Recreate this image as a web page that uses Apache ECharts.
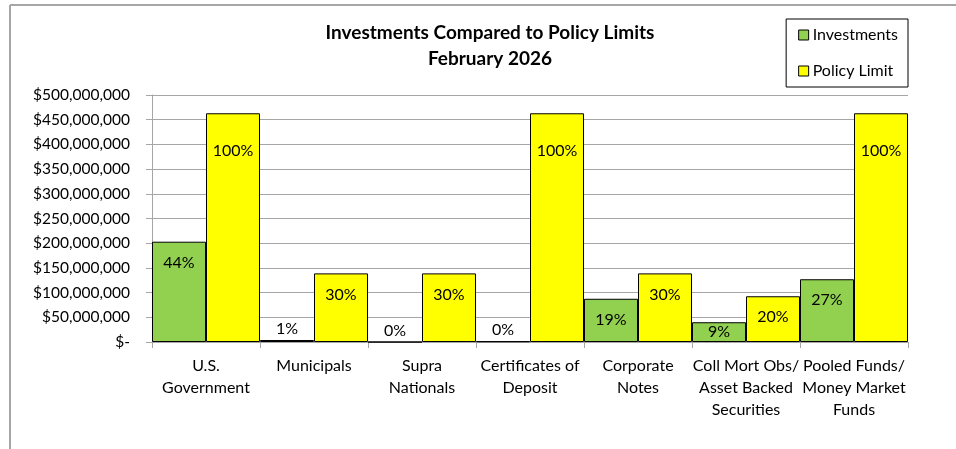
<!DOCTYPE html>
<html>
<head>
<meta charset="utf-8">
<script src="https://cdn.jsdelivr.net/npm/echarts@6/dist/echarts.min.js"></script>
<style>
  html, body { margin: 0; padding: 0; background: #fff; }
  #chart { width: 956px; height: 449px; }
</style>
</head>
<body>
<div id="chart"></div>
<script>
// ---- data ----
const categories = [
  'U.S.\nGovernment',
  'Municipals',
  'Supra\nNationals',
  'Certificates of\nDeposit',
  'Corporate\nNotes',
  'Coll Mort Obs/\nAsset Backed\nSecurities',
  'Pooled Funds/\nMoney Market\nFunds'
];
const investments = [203000000, 4000000, 0, 1500000, 87500000, 40000000, 127000000];
const policyLimits = [463000000, 138900000, 138900000, 463000000, 138900000, 92600000, 463000000];
const seriesNames = ['Investments', 'Policy Limit'];
const titleLines = ['Investments Compared to Policy Limits', 'February 2026'];
const yTicks = { min: 0, max: 500000000, interval: 50000000 };

// ---- build ----
const FONT = 'Lato';
const FS = 16;
const total = investments.reduce((a, b) => a + b, 0);
function pct(v) { return Math.round(v / total * 100) + '%'; }
function labelFor(v) {
  if (v < 10000000) return { position: 'top', distance: 3 };
  if (v < 60000000) return { position: 'inside' };
  if (v > 400000000) return { position: 'insideTop', distance: 30 };
  return { position: 'insideTop', distance: 13 };
}
function toData(arr) {
  return arr.map(v => ({ value: v, label: labelFor(v) }));
}

const chart = echarts.init(document.getElementById('chart'), null, { renderer: 'canvas' });
const grey = '#a6a6a6';
chart.setOption({
  animation: false,
  textStyle: { fontFamily: FONT },
  graphic: [
    { type: 'line', shape: { x1: 10, y1: 5, x2: 956, y2: 5 }, style: { stroke: '#a6a6a6', lineWidth: 2 } },
    { type: 'line', shape: { x1: 10, y1: 5, x2: 10, y2: 449 }, style: { stroke: '#a6a6a6', lineWidth: 2 } }
  ],
  title: {
    text: titleLines.join('\n'),
    left: 490,
    textAlign: 'center',
    top: 20,
    padding: 0,
    textStyle: { fontFamily: FONT, fontSize: 19, fontWeight: 'bold', color: '#000', lineHeight: 26 }
  },
  legend: {
    data: seriesNames,
    orient: 'vertical',
    right: 48,
    top: 19,
    padding: [8, 10, 8, 12],
    itemGap: 20,
    itemWidth: 10,
    itemHeight: 10,
    icon: 'rect',
    borderColor: '#000',
    borderWidth: 1,
    textStyle: { fontFamily: FONT, fontSize: FS, color: '#000', padding: [0, 0, 0, -1] },
    itemStyle: { borderColor: '#000', borderWidth: 1 }
  },
  grid: { left: 152, right: 48, top: 95, bottom: 107, containLabel: false },
  xAxis: {
    type: 'category',
    data: categories,
    axisLine: { lineStyle: { color: grey, width: 1 } },
    axisTick: { show: true, length: 6, lineStyle: { color: grey } },
    axisLabel: { color: '#000', fontSize: FS, fontFamily: FONT, lineHeight: 22, margin: 13, interval: 0 },
    splitLine: { show: false }
  },
  yAxis: {
    type: 'value',
    min: yTicks.min,
    max: yTicks.max,
    interval: yTicks.interval,
    axisLine: { show: true, lineStyle: { color: grey, width: 1 } },
    axisTick: { show: true, length: 6, lineStyle: { color: grey } },
    splitLine: { lineStyle: { color: grey, width: 1 } },
    axisLabel: {
      color: '#000', fontSize: 15.5, fontFamily: FONT, margin: 22,
      formatter: v => v === 0 ? '$-' : '$' + v.toLocaleString('en-US')
    }
  },
  series: [
    {
      name: seriesNames[0],
      type: 'bar',
      data: toData(investments),
      barGap: '0%',
      barCategoryGap: '0%',
      itemStyle: { color: '#92D050', borderColor: '#000', borderWidth: 1 },
      label: { show: true, color: '#000', fontSize: FS, fontFamily: FONT, formatter: p => pct(p.value) }
    },
    {
      name: seriesNames[1],
      type: 'bar',
      data: toData(policyLimits),
      barGap: '0%',
      barCategoryGap: '0%',
      itemStyle: { color: '#FFFF00', borderColor: '#000', borderWidth: 1 },
      label: { show: true, color: '#000', fontSize: FS, fontFamily: FONT, formatter: p => pct(p.value) }
    }
  ]
});
</script>
</body>
</html>
